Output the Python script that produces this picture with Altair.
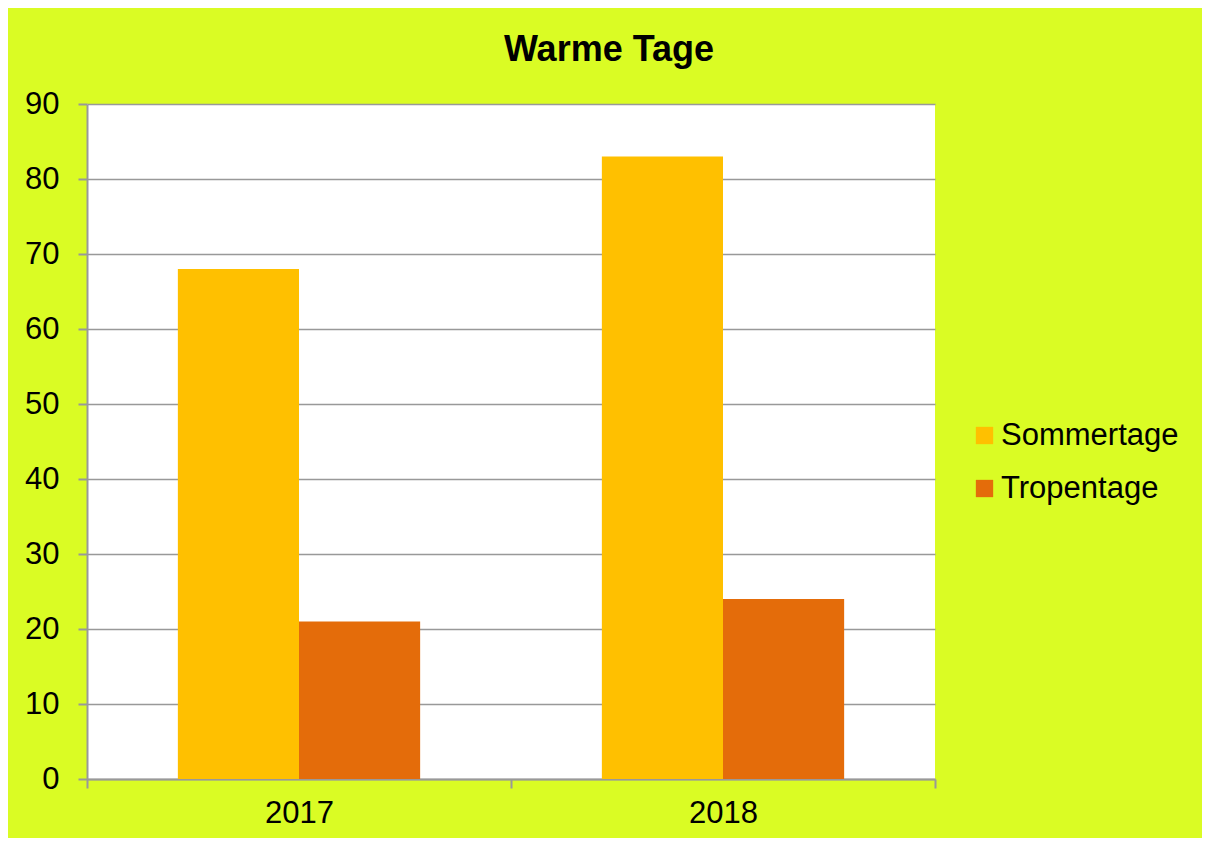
import altair as alt
import pandas as pd

years = ["2017", "2018"]
series = ["Sommertage", "Tropentage"]
sommertage = [68, 83]
tropentage = [21, 24]
colors = ["#FFC000", "#E46C0A"]
y_ticks = list(range(0, 91, 10))

rows = []
for i, yr in enumerate(years):
    rows.append({"Jahr": yr, "Serie": series[0], "Tage": sommertage[i]})
    rows.append({"Jahr": yr, "Serie": series[1], "Tage": tropentage[i]})
df = pd.DataFrame(rows)

FONT = "Liberation Sans"
GREY = "#999999"

chart = (
    alt.Chart(df)
    .mark_bar()
    .encode(
        x=alt.X(
            "Jahr:N",
            sort=years,
            title=None,
            scale=alt.Scale(paddingInner=0, paddingOuter=0),
            axis=alt.Axis(
                labelAngle=0,
                labelFontSize=31,
                labelFont=FONT,
                labelColor="black",
                labelPadding=10,
                tickSize=9,
                tickBand="extent",
                tickColor=GREY,
                tickWidth=2,
                domainColor=GREY,
                domainWidth=2,
                grid=False,
            ),
        ),
        xOffset=alt.XOffset(
            "Serie:N",
            sort=series,
            scale=alt.Scale(paddingInner=0, paddingOuter=0.75),
        ),
        y=alt.Y(
            "Tage:Q",
            title=None,
            scale=alt.Scale(domain=[0, 90], nice=False),
            axis=alt.Axis(
                values=y_ticks,
                labelFontSize=31,
                labelFont=FONT,
                labelColor="black",
                labelPadding=19,
                tickSize=9,
                tickColor=GREY,
                tickWidth=2,
                domainColor=GREY,
                domainWidth=2,
                gridColor=GREY,
                gridWidth=1.7,
            ),
        ),
        color=alt.Color(
            "Serie:N",
            sort=series,
            scale=alt.Scale(domain=series, range=colors),
            legend=alt.Legend(
                title=None,
                orient="none",
                legendX=882,
                legendY=316,
                symbolType="square",
                symbolSize=300,
                symbolStrokeWidth=0,
                symbolOpacity=1,
                labelFontSize=31,
                labelFont=FONT,
                labelColor="black",
                labelOffset=1,
                labelLimit=0,
                rowPadding=21,
                padding=0,
            ),
        ),
    )
    .properties(
        width=848,
        height=675,
        title=alt.TitleParams(
            "Warme Tage",
            font=FONT,
            fontSize=36,
            fontWeight="bold",
            color="black",
            anchor="middle",
            dx=98,
            offset=19,
        ),
        background="#DAFC24",
        padding={"left": 79, "top": 96, "right": 267, "bottom": 59},
        autosize=alt.AutoSizeParams(type="none"),
    )
    .configure_view(fill="white", stroke=None)
)

chart.save("out.html", embed_options={"renderer": "svg", "actions": False})
